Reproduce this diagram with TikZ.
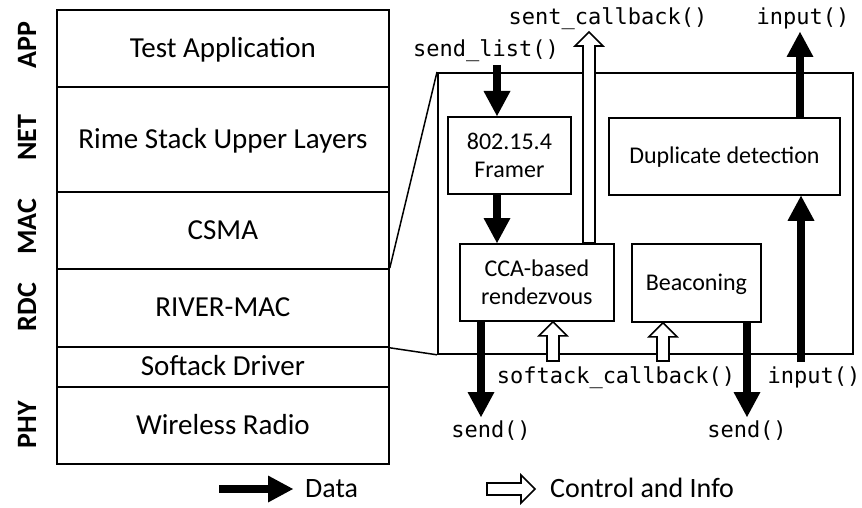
\documentclass[tikz,border=0pt]{standalone}
\usepackage{fontspec}
\setmainfont{Carlito}
\newfontfamily\codefont{DejaVu Sans Mono}
\usetikzlibrary{arrows.meta,calc}

\begin{document}
\begin{tikzpicture}[x=1pt,y=-1pt,
  layer/.style={draw, line width=1.8pt, anchor=north west, minimum width=332pt,
    inner sep=0pt, font=\fontsize{29}{34}\selectfont, text height=19pt, text depth=1pt},
  tag/.style={rotate=90, inner sep=0pt, font=\bfseries\fontsize{28}{32}\selectfont},
  block/.style={draw, line width=1.8pt, anchor=north west, inner sep=0pt, align=center,
    font=\fontsize{24}{27.5}\selectfont},
  blockone/.style={draw, line width=1.8pt, anchor=north west, inner sep=0pt,
    font=\fontsize{24}{27.5}\selectfont, text height=15.5pt, text depth=0.5pt},
  code/.style={anchor=base, inner sep=0pt, font=\codefont\fontsize{22}{26}\selectfont},
  legend/.style={anchor=west, inner sep=0pt, font=\fontsize{28}{32}\selectfont,
    text height=18pt, text depth=1pt},
  data/.style={line width=8pt, -{Triangle[length=25pt,width=27pt,line width=0pt]}},
  ctrl/.style={draw, line width=1.6pt, fill=white, line join=miter,
    to path={
      ($(\tikztotarget)!14pt!(\tikztostart)$) coordinate (ctrl-h)
      ($(\tikztostart)!6pt!90:(\tikztotarget)$)
      -- ($(ctrl-h)!6pt!90:(\tikztotarget)$)
      -- ($(ctrl-h)!14pt!90:(\tikztotarget)$)
      -- (\tikztotarget)
      -- ($(ctrl-h)!14pt!-90:(\tikztotarget)$)
      -- ($(ctrl-h)!6pt!-90:(\tikztotarget)$)
      -- ($(\tikztostart)!6pt!-90:(\tikztotarget)$)
      -- cycle}},
  zoomline/.style={line width=1.5pt}
]
\useasboundingbox (0,0) rectangle (862,508);

% protocol stack
\node[layer, minimum height=77pt]  (app) at (56,9)   {Test Application};
\node[layer, minimum height=105pt] (net) at (56,86)  {Rime Stack Upper Layers};
\node[layer, minimum height=77pt]  (mac) at (56,191) {CSMA};
\node[layer, minimum height=78pt]  (rdc) at (56,268) {RIVER-MAC};
\node[layer, minimum height=40pt]  (drv) at (56,346) {Softack Driver};
\node[layer, minimum height=77pt]  (phy) at (56,386) {Wireless Radio};

% layer tags
\node[tag] (tApp) at (27,45)  {APP};
\node[tag] (tNet) at (27,138) {NET};
\node[tag] (tMac) at (27,227) {MAC};
\node[tag] (tRdc) at (27,307) {RDC};
\node[tag] (tPhy) at (27,425) {PHY};

% detail of the RDC layer
\node[draw, line width=1.8pt, anchor=north west, minimum width=415pt,
      minimum height=281pt, inner sep=0pt] (zoom) at (437,72) {};
\draw[zoomline] (rdc.north east) -- (zoom.north west);
\draw[zoomline] (rdc.south east) -- (zoom.south west);

\node[block, minimum width=123pt, minimum height=77pt] (framer) at (447,116) {802.15.4\\Framer};
\node[blockone, minimum width=231pt, minimum height=77pt] (dup) at (608,117) {Duplicate detection};
\node[block, minimum width=154pt, minimum height=77pt] (cca) at (459,243) {CCA-based\\rendezvous};
\node[blockone, minimum width=129pt, minimum height=78pt] (beacon) at (631,243) {Beaconing};

% function names
\node[code] (slLbl)    at (486,57)  {send\_list()};
\node[code] (cbLbl)    at (608,25)  {sent\_callback()};
\node[code] (inTopLbl) at (803,25)  {input()};
\node[code] (saLbl)    at (616,383) {softack\_callback()};
\node[code] (inBotLbl) at (814,383) {input()};
\node[code] (sendLLbl) at (491,437) {send()};
\node[code] (sendRLbl) at (747,437) {send()};

% data flow
\coordinate (slTop)     at (497,65);
\coordinate (sendLTip)  at (481,417);
\coordinate (sendRTip)  at (747,417);
\coordinate (inTopTip)  at (800,32);
\coordinate (inBotTail) at (801,362);
\draw[data] (slTop) -- (framer.north -| slTop);
\draw[data] (framer.south -| slTop) -- (cca.north -| slTop);
\draw[data] (cca.south -| sendLTip) -- (sendLTip);
\draw[data] (beacon.south -| sendRTip) -- (sendRTip);
\draw[data] (dup.north -| inTopTip) -- (inTopTip);
\draw[data] (inBotTail) -- (dup.south -| inBotTail);

% control and info flow
\coordinate (cbTip) at (589,32);
\coordinate (sa1)   at (553,361);
\coordinate (sa2)   at (663,361);
\draw[ctrl] (cca.north -| cbTip) to (cbTip);
\draw[ctrl] (sa1) to (cca.south -| sa1);
\draw[ctrl] (sa2) to (beacon.south -| sa2);

% legend
\coordinate (dataTail) at (219,489);
\coordinate (dataTip)  at (293,489);
\node[legend] (dataLbl) at (305,489) {Data};
\draw[data] (dataTail) -- (dataTip);
\coordinate (ctrlTail) at (487,489);
\coordinate (ctrlTip)  at (535,489);
\node[legend] (ctrlLbl) at (550,489) {Control and Info};
\draw[ctrl] (ctrlTail) to (ctrlTip);
\end{tikzpicture}
\end{document}
